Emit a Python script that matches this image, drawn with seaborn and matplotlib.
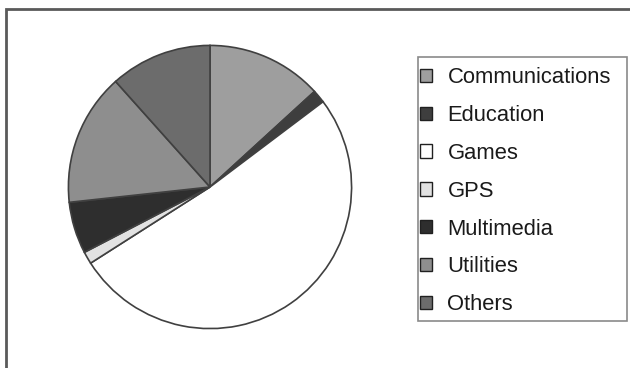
import matplotlib
matplotlib.use("Agg")
import matplotlib.pyplot as plt
from matplotlib.patches import Patch, Rectangle
import seaborn as sns

categories = ["Communications", "Education", "Games", "GPS", "Multimedia", "Utilities", "Others"]
shares = [13.2, 1.5, 51.2, 1.4, 5.9, 15.1, 11.6]
colors = ["#9e9e9e", "#3e3e3e", "#ffffff", "#e2e2e2", "#2e2e2e", "#8e8e8e", "#6c6c6c"]

sns.set_theme(style="white")
plt.rcParams["font.family"] = ["Liberation Sans", "DejaVu Sans"]

W, H = 630, 368
fig = plt.figure(figsize=(W / 100, H / 100), dpi=100)
fig.patch.set_facecolor("white")

# outer chart frame
fig.add_artist(Rectangle((6 / W, -0.05), 1.2, 1 - 9 / H + 0.05,
                         transform=fig.transFigure, fill=False,
                         edgecolor="#5a5a5a", linewidth=2.0))

cx, cy, r = 210, 187, 143
ax = fig.add_axes([(cx - r) / W, (H - cy - r) / H, 2 * r / W, 2 * r / H])
ax.pie(shares, colors=colors, startangle=90, counterclock=False,
       wedgeprops=dict(edgecolor="#404040", linewidth=1.2))
ax.set_xlim(-1.01, 1.01)
ax.set_ylim(-1.01, 1.01)
ax.set_aspect("equal")
ax.axis("off")

# legend box
lx0, ly0, lx1, ly1 = 418, 57, 627, 321
fig.add_artist(Rectangle((lx0 / W, 1 - ly1 / H), (lx1 - lx0) / W, (ly1 - ly0) / H,
                         transform=fig.transFigure, fill=False,
                         edgecolor="#8a8a8a", linewidth=1.2))

handles = [Patch(facecolor=c, edgecolor="#202020", linewidth=1.0) for c in colors]
leg = fig.legend(handles, categories, loc="upper left",
                 bbox_to_anchor=(420 / W, 1 - 67 / H),
                 fontsize=15.8, frameon=False,
                 handlelength=0.55, handleheight=0.55,
                 handletextpad=0.7, labelspacing=0.77, borderpad=0.0,
                 borderaxespad=0.0)
for t in leg.get_texts():
    t.set_color("#1a1a1a")

fig.savefig("out.png", dpi=100, facecolor="white")
